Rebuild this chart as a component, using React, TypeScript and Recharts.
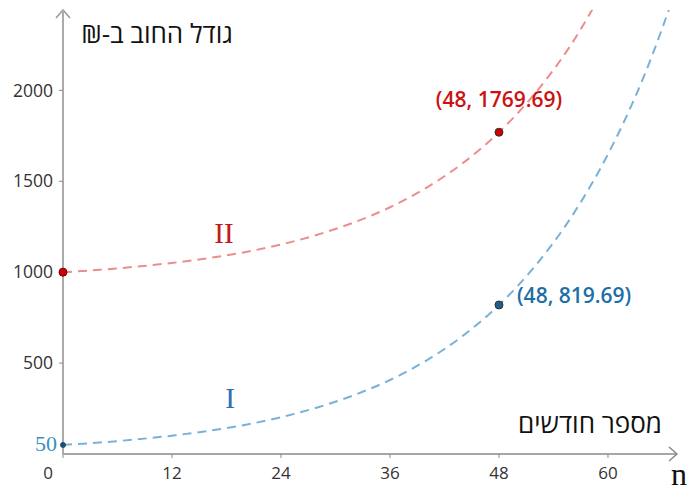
import React from 'react';
import { LineChart, Line, XAxis, YAxis, ReferenceDot } from 'recharts';

// months (n) and debt in ₪
const months = [0, 4, 8, 12, 16, 20, 24, 28, 32, 36, 40, 44, 48, 52, 56, 60, 64, 68];
const debtI = [50, 63, 80, 101, 127, 160, 202, 256, 323, 407, 514, 649, 819.69, 1035, 1306, 1649, 2082, 2629];
const debtII = [1000, 1013, 1030, 1051, 1077, 1110, 1152, 1206, 1273, 1357, 1464, 1599, 1769.69, 1985, 2256, 2599, null, null];

const xTicks = [0, 12, 24, 36, 48, 60];
const yTicks = [500, 1000, 1500, 2000];

const pointI = { n: 48, v: 819.69, label: '(48, 819.69)' };
const pointII = { n: 48, v: 1769.69, label: '(48, 1769.69)' };
const startI = { n: 0, v: 50 };
const startII = { n: 0, v: 1000 };

const data = months.map((n, i) => ({ n, I: debtI[i], II: debtII[i] }));

const W = 694;
const H = 492;
const LEFT = 63;
const RIGHT = 677;
const TOP = 10;
const BOTTOM = 454;

const BLUE_LINE = '#78b2d6';
const RED_LINE = '#ec8d8d';
const BLUE_TEXT = '#1d6fa5';
const RED_TEXT = '#cc1111';
const TICK_FONT = '"Open Sans", "DejaVu Sans", sans-serif';

const XTick: React.FC<any> = ({ x, y, payload }) => {
  const shift = payload.value === 0 ? -15 : 0;
  return (
    <text x={x + shift} y={y} dy="0.71em" textAnchor="middle" fill="#333" fontSize={17} fontFamily={TICK_FONT}>
      {payload.value}
    </text>
  );
};

const App: React.FC = () => {
  return (
    <div style={{ position: 'absolute', left: 0, top: 0, width: W, height: H, background: '#fff' }}>
      <LineChart width={W} height={H} data={data} margin={{ top: TOP, right: W - RIGHT, left: 0, bottom: 0 }}>
        <XAxis
          dataKey="n"
          type="number"
          domain={[0, 67.6]}
          allowDataOverflow
          ticks={xTicks}
          height={H - BOTTOM}
          tick={<XTick />}
          tickSize={4}
          tickMargin={9}
          axisLine={{ stroke: '#8a8a8a', strokeWidth: 1.5 }}
          tickLine={{ stroke: '#8a8a8a' }}
        />
        <YAxis
          type="number"
          domain={[0, 2442]}
          allowDataOverflow
          ticks={yTicks}
          width={LEFT}
          tickSize={4}
          tickMargin={6}
          tick={{ fill: '#333', fontSize: 17.5, fontFamily: TICK_FONT }}
          axisLine={{ stroke: '#ababab', strokeWidth: 2 }}
          tickLine={{ stroke: '#8a8a8a' }}
        />
        <Line
          type="monotone"
          dataKey="II"
          stroke={RED_LINE}
          strokeWidth={2}
          strokeDasharray="9 6"
          dot={false}
          isAnimationActive={false}
        />
        <Line
          type="monotone"
          dataKey="I"
          stroke={BLUE_LINE}
          strokeWidth={2}
          strokeDasharray="9 6"
          dot={false}
          isAnimationActive={false}
        />
        <ReferenceDot x={startII.n} y={startII.v} r={4} fill="#cc0000" stroke="#7a0000" strokeWidth={1} />
        <ReferenceDot x={startI.n} y={startI.v} r={2.5} fill="#1a4f70" stroke="#1a4f70" />
        <ReferenceDot
          x={pointII.n}
          y={pointII.v}
          r={4}
          fill="#cc0000"
          stroke="#333"
          strokeWidth={1}
          label={(p: any) => (
            <text
              x={p.viewBox.x + p.viewBox.width / 2}
              y={p.viewBox.y - 21}
              textAnchor="middle"
              fill={RED_TEXT}
              fontSize={21}
              fontWeight={600}
              fontFamily={TICK_FONT}
            >
              {pointII.label}
            </text>
          )}
        />
        <ReferenceDot
          x={pointI.n}
          y={pointI.v}
          r={4}
          fill="#1d5f88"
          stroke="#333"
          strokeWidth={1}
          label={(p: any) => (
            <text
              x={p.viewBox.x + p.viewBox.width + 14}
              y={p.viewBox.y + 2}
              textAnchor="start"
              fill={BLUE_TEXT}
              fontSize={21}
              fontWeight={600}
              fontFamily={TICK_FONT}
            >
              {pointI.label}
            </text>
          )}
        />

        {/* axis arrows */}
        <polyline points={`${LEFT - 7},${TOP + 8} ${LEFT},${TOP} ${LEFT + 7},${TOP + 8}`} fill="none" stroke="#999" strokeWidth={1.5} />
        <polyline points={`${RIGHT - 8},${BOTTOM - 7} ${RIGHT},${BOTTOM} ${RIGHT - 8},${BOTTOM + 7}`} fill="none" stroke="#888" strokeWidth={1.5} />

        {/* axis titles and curve names */}
        <text x={157} y={43} textAnchor="middle" direction="rtl" style={{ direction: 'rtl', unicodeBidi: 'embed' }} fontSize={26} fill="#111" fontFamily={TICK_FONT}>
          גודל החוב ב-₪
        </text>
        <text x={590} y={433} textAnchor="middle" direction="rtl" style={{ direction: 'rtl', unicodeBidi: 'embed' }} fontSize={26} fill="#111" fontFamily={TICK_FONT}>
          מספר חודשים
        </text>
        <text x={679} y={485} textAnchor="middle" fontSize={32} fill="#111" fontFamily='"Liberation Serif", serif'>n</text>
        <text x={224} y={243} textAnchor="middle" fontSize={29} fill="#c41a1a" fontFamily='"Liberation Serif", serif'>II</text>
        <text x={230} y={408} textAnchor="middle" fontSize={29} fill="#2c6fb5" fontFamily='"Liberation Serif", serif'>I</text>
        <text x={46} y={451} textAnchor="middle" fontSize={22} fill="#3a8fc2" fontFamily='"Liberation Serif", serif'>50</text>
      </LineChart>
    </div>
  );
};

export default App;
